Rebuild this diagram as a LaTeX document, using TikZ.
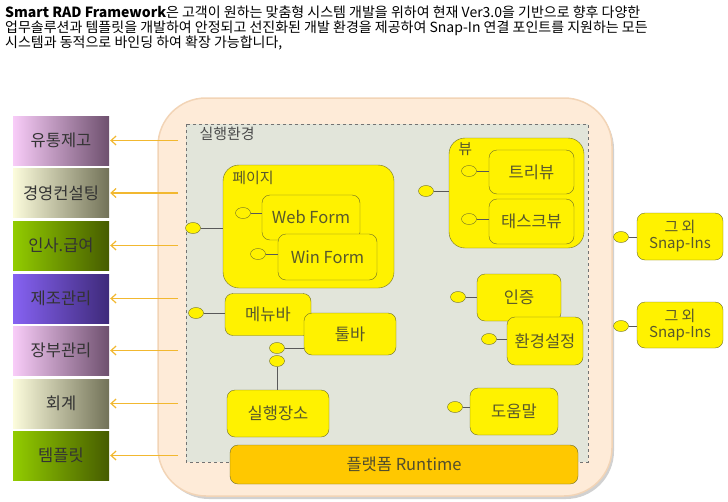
\documentclass[tikz,border=0pt]{standalone}
\usepackage{fontspec}
\setmainfont{Noto Sans CJK KR}
\usetikzlibrary{shapes.geometric,positioning,arrows.meta}
\definecolor{boxline}{HTML}{6E6E28}
\definecolor{boxtext}{HTML}{58582C}
\definecolor{feedc}{HTML}{F2B830}
\definecolor{peach}{HTML}{FEEBD8}
\definecolor{peachline}{HTML}{F2D4B6}
\definecolor{stage}{HTML}{E2E5DA}
\definecolor{runfill}{HTML}{FFC800}
\definecolor{plumA}{HTML}{F8CCF8}
\definecolor{plumB}{HTML}{6E506E}
\definecolor{sandA}{HTML}{FCFCDC}
\definecolor{sandB}{HTML}{727258}
\definecolor{leafA}{HTML}{92CC00}
\definecolor{leafB}{HTML}{465C00}
\definecolor{irisA}{HTML}{8662F2}
\definecolor{irisB}{HTML}{3E2A7A}
\begin{document}
\begin{tikzpicture}[x=1pt,y=-1pt]
        \useasboundingbox (0,0) rectangle (728,501);
        \tikzstyle{side}=[minimum width=96pt, minimum height=49pt, inner sep=0pt, text=black!80, font=\fontsize{16.5}{16.5}\selectfont]
        \tikzstyle{part}=[draw=boxline, fill=yellow, rounded corners=8pt, inner sep=0pt, text=boxtext, font=\fontsize{16.5}{16.5}\selectfont]
        \tikzstyle{group}=[draw=boxline, fill=yellow, rounded corners=16pt, inner sep=0pt]
        \tikzstyle{pin}=[ellipse, draw=boxline, fill=yellow, minimum width=15pt, minimum height=11pt, inner sep=0pt]
        \tikzstyle{feed}=[feedc, line width=1.2pt, -{Straight Barb[length=5pt,width=9pt]}]
        \tikzstyle{wire}=[draw=black!65, line width=0.6pt]
        \tikzstyle{head}=[anchor=west, inner sep=0pt, font=\fontsize{14}{14}\selectfont]

        \node[head] (line1) at (5,12) {\textbf{Smart RAD Framework}은 고객이 원하는 맞춤형 시스템 개발을 위하여 현재 Ver3.0을 기반으로 향후 다양한};
        \node[head] (line2) at (5,28) {업무솔루션과 템플릿을 개발하여 안정되고 선진화된 개발 환경을 제공하여 Snap-In 연결 포인트를 지원하는 모든};
        \node[head] (line3) at (5,43) {시스템과 동적으로 바인딩 하여 확장 가능합니다,};

        \node[side, left color=plumA, right color=plumB] (dist) at (61,140.5) {유통제고};
        \node[side, left color=sandA, right color=sandB] (consult) at (61,193) {경영컨설팅};
        \node[side, left color=leafA, right color=leafB] (pay) at (61,245.5) {인사.급여};
        \node[side, left color=irisA, right color=irisB] (mfg) at (61,298.5) {제조관리};
        \node[side, left color=plumA, right color=plumB] (ledger) at (61,350.5) {장부관리};
        \node[side, left color=sandA, right color=sandB] (acct) at (61,403.5) {회계};
        \node[side, left color=leafA, right color=leafB] (tmpl) at (61,455.5) {템플릿};

        \fill[black!18, rounded corners=48pt] (161,101) rectangle (614,499);
        \draw[fill=peach, draw=peachline, line width=1.5pt, rounded corners=48pt] (158,98) rectangle (612,496);
        \draw[fill=stage, draw=black!55, dashed] (186,124) rectangle (588,462);
        \node[anchor=west, text=black!70, font=\fontsize{15}{15}\selectfont] (envlbl) at (196,134) {실행환경};

        \coordinate (rim) at (178,0);
        \foreach \n in {dist,consult,pay,mfg,ledger,acct,tmpl}
            \draw[feed] (\n.east -| rim) -- ([xshift=1pt]\n.east);

        \node[group, minimum width=171pt, minimum height=123pt] (page) at (308.5,226.5) {};
        \node[anchor=north west, text=boxtext, font=\fontsize{15}{15}\selectfont] at ([xshift=6pt,yshift=-3pt]page.north west) {페이지};
        \node[part, minimum width=98pt, minimum height=45pt] (web) at (311,217.5) {Web Form};
        \node[part, minimum width=99pt, minimum height=46pt] (win) at (327.5,257) {Win Form};
        \node[pin] (webpin) at (243,213) {};
        \node[pin] (winpin) at (258,254) {};
        \node[pin] (pagepin) at (193,228) {};
        \draw[wire] (webpin) -- (webpin -| web.west);
        \draw[wire] (winpin) -- (winpin -| win.west);
        \draw[wire] (pagepin) -- (pagepin -| page.west);

        \node[group, minimum width=135pt, minimum height=110pt] (view) at (516.5,193) {};
        \node[anchor=north west, text=boxtext, font=\fontsize{15}{15}\selectfont] at ([xshift=6pt,yshift=-1pt]view.north west) {뷰};
        \node[part, minimum width=85pt, minimum height=44pt] (tree) at (531.5,172) {트리뷰};
        \node[part, minimum width=85pt, minimum height=45pt] (task) at (531.5,221.5) {태스크뷰};
        \node[pin] (treepin) at (469,171) {};
        \node[pin] (taskpin) at (469,219) {};
        \node[pin] (viewpin) at (426,191) {};
        \draw[wire] (treepin) -- (treepin -| tree.west);
        \draw[wire] (taskpin) -- (taskpin -| task.west);
        \draw[wire] (viewpin) -- (viewpin -| view.west);

        \node[part, minimum width=86pt, minimum height=42pt] (menu) at (268,314.5) {메뉴바};
        \node[part, minimum width=92pt, minimum height=42pt] (tool) at (350,334) {툴바};
        \node[part, minimum width=102pt, minimum height=47pt] (run) at (278,413.5) {실행장소};
        \node[pin] (menupin) at (196,313) {};
        \node[pin] (toolpin) at (277,348) {};
        \node[pin] (runpin) at (277,361) {};
        \draw[wire] (menupin) -- (menupin -| menu.west);
        \draw[wire] (toolpin) -- (toolpin -| tool.west);
        \draw[wire] (runpin) -- (runpin |- run.north);

        \node[part, minimum width=84pt, minimum height=47pt] (auth) at (519,297.5) {인증};
        \node[part, minimum width=76pt, minimum height=48pt] (conf) at (545,341) {환경설정};
        \node[part, minimum width=88pt, minimum height=47pt] (help) at (514,411.5) {도움말};
        \node[pin] (authpin) at (458,297) {};
        \node[pin] (confpin) at (489,339) {};
        \node[pin] (helppin) at (455,407) {};
        \draw[wire] (authpin) -- (authpin -| auth.west);
        \draw[wire] (confpin) -- (confpin -| conf.west);
        \draw[wire] (helppin) -- (helppin -| help.west);

        \node[part, fill=runfill, text=black!55!olive, minimum width=348pt, minimum height=39pt] (rt) at (404,464.5) {플랫폼 Runtime};

        \node[part, align=center, minimum width=86pt, minimum height=47pt, font=\fontsize{15}{16}\selectfont] (snap1) at (680,236.5) {그 외\\Snap-Ins};
        \node[part, align=center, minimum width=86pt, minimum height=46pt, font=\fontsize{15}{16}\selectfont] (snap2) at (680,325) {그 외\\Snap-Ins};
        \node[pin] (snap1pin) at (621,237) {};
        \node[pin] (snap2pin) at (621,326) {};
        \draw[wire] (snap1pin) -- (snap1pin -| snap1.west);
        \draw[wire] (snap2pin) -- (snap2pin -| snap2.west);
\end{tikzpicture}
\end{document}
